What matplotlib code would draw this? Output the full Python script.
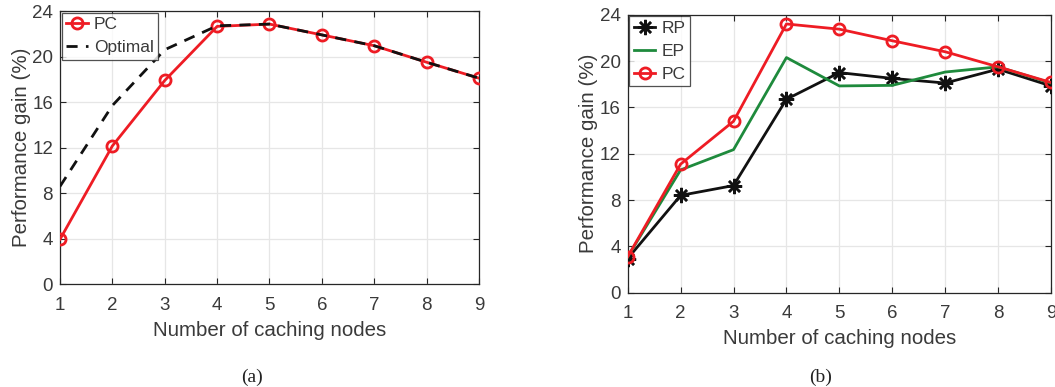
import matplotlib
matplotlib.use("Agg")
import matplotlib.pyplot as plt

nodes = [1, 2, 3, 4, 5, 6, 7, 8, 9]
pc_a = [3.95, 12.15, 17.9, 22.65, 22.85, 21.9, 20.95, 19.5, 18.1]
opt_a = [8.6, 15.7, 20.6, 22.7, 22.85, 21.9, 20.95, 19.5, 18.1]

rp_b = [2.95, 8.4, 9.25, 16.7, 19.0, 18.5, 18.1, 19.3, 17.85]
ep_b = [3.1, 10.6, 12.35, 20.3, 17.85, 17.9, 19.05, 19.5, 18.1]
pc_b = [3.1, 11.1, 14.8, 23.2, 22.75, 21.75, 20.8, 19.5, 18.15]

yticks = [0, 4, 8, 12, 16, 20, 24]
xlabel = "Number of caching nodes"
ylabel = "Performance gain (%)"

plt.rcParams['font.family'] = ['Liberation Sans', 'DejaVu Sans']

W, H = 1055, 387
fig = plt.figure(figsize=(W / 100, H / 100), dpi=100)

TXT = '#3a3a3a'
AX = '#262626'
RED = '#ee1c24'
GREEN = '#1e8a3c'


def ax_rect(l, r, t, b):
    return [l / W, 1 - b / H, (r - l) / W, (b - t) / H]


def style(ax):
    ax.set_xlim(1, 9)
    ax.set_ylim(0, 24)
    ax.set_xticks(nodes)
    ax.set_yticks(yticks)
    ax.grid(True, color='#e6e6e6', linewidth=0.9)
    ax.set_axisbelow(True)
    ax.tick_params(direction='in', length=4, width=0.8, colors=AX,
                   labelcolor=TXT, labelsize=13.5, top=True, right=True)
    ax.tick_params(axis='x', pad=9)
    ax.tick_params(axis='y', pad=5)
    for s in ax.spines.values():
        s.set_color(AX)
        s.set_linewidth(0.9)
    ax.set_xlabel(xlabel, fontsize=14.8, color=TXT, labelpad=5)
    ax.set_ylabel(ylabel, fontsize=14.8, color=TXT, labelpad=1)


def legend(ax):
    leg = ax.legend(loc='upper left', fontsize=12.5, frameon=True,
                    fancybox=False, borderaxespad=0.1, handlelength=1.25,
                    handletextpad=0.35, borderpad=0.25, labelspacing=0.45,
                    labelcolor=TXT)
    leg.get_frame().set_edgecolor(AX)
    leg.get_frame().set_linewidth(0.9)


# (a)
ax1 = fig.add_axes(ax_rect(60, 479, 11, 284.3))
ax1.plot(nodes, pc_a, color=RED, lw=2, marker='o', ms=8, mew=2,
         mfc='none', label='PC', zorder=3)
ax1.plot(nodes, opt_a, color='#111111', lw=2, ls=(0, (4, 3)),
         label='Optimal', zorder=4)
style(ax1)
legend(ax1)

# (b)
ax2 = fig.add_axes(ax_rect(627.7, 1051, 14.7, 292.7))
ax2.plot(nodes, rp_b, color='#111111', lw=2, marker=(8, 2, 0), ms=11, mew=1.8,
         label='RP', zorder=3)
ax2.plot(nodes, ep_b, color=GREEN, lw=2, label='EP', zorder=3)
ax2.plot(nodes, pc_b, color=RED, lw=2, marker='o', ms=8, mew=2,
         mfc='none', label='PC', zorder=4)
style(ax2)
legend(ax2)

fig.text(251.7 / W, 1 - 377 / H, '(a)', ha='center', va='center',
         fontsize=14, family='Liberation Serif', color='#222222')
fig.text(820.7 / W, 1 - 377 / H, '(b)', ha='center', va='center',
         fontsize=14, family='Liberation Serif', color='#222222')

fig.savefig('out.png', dpi=100)
